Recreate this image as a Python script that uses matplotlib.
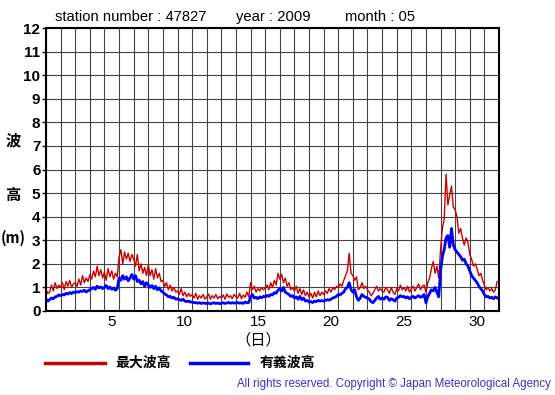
import numpy as np
import matplotlib.pyplot as plt

plt.rcParams["font.family"] = ["Liberation Sans", "DejaVu Sans"]
JP = ["Noto Sans CJK JP", "DejaVu Sans"]

station = "47827"
year = "2009"
month = "05"
per_day = 8  # 3-hourly readings

# significant wave height (m), 8 readings per day
sig_height = [
    0.50, 0.42, 0.48, 0.55, 0.52, 0.60, 0.62, 0.68,
    0.65, 0.70, 0.68, 0.75, 0.72, 0.78, 0.74, 0.80,
    0.78, 0.82, 0.80, 0.85, 0.83, 0.88, 0.80, 0.86,
    0.90, 0.95, 1.00, 0.92, 1.05, 0.98, 1.02, 0.95,
    1.00, 1.08, 0.95, 1.02, 0.92, 0.98, 0.88, 0.95,
    1.40, 1.30, 1.50, 1.35, 1.45, 1.28, 1.40, 1.55,
    1.35, 1.50, 1.25, 1.30, 1.15, 1.25, 1.05, 1.20,
    1.10, 1.00, 1.08, 0.95, 1.05, 0.90, 0.98, 0.85,
    0.80, 0.72, 0.68, 0.60, 0.62, 0.55, 0.58, 0.50,
    0.52, 0.48, 0.45, 0.50, 0.42, 0.40, 0.42, 0.38,
    0.38, 0.35, 0.36, 0.33, 0.35, 0.32, 0.34, 0.33,
    0.32, 0.34, 0.30, 0.33, 0.35, 0.32, 0.34, 0.31,
    0.33, 0.35, 0.32, 0.34, 0.36, 0.33, 0.35, 0.34,
    0.34, 0.36, 0.33, 0.35, 0.32, 0.38, 0.35, 0.36,
    0.60, 0.70, 0.55, 0.58, 0.52, 0.60, 0.56, 0.62,
    0.60, 0.66, 0.62, 0.70, 0.68, 0.78, 0.75, 0.88,
    0.95, 0.85, 1.00, 0.80, 0.75, 0.70, 0.62, 0.65,
    0.55, 0.60, 0.50, 0.62, 0.48, 0.55, 0.42, 0.45,
    0.38, 0.40, 0.36, 0.42, 0.40, 0.45, 0.42, 0.44,
    0.42, 0.45, 0.48, 0.46, 0.50, 0.55, 0.58, 0.62,
    0.70, 0.68, 0.75, 0.80, 0.95, 1.00, 1.20, 0.90,
    0.80, 0.90, 0.60, 0.45, 0.55, 0.70, 0.62, 0.58,
    0.55, 0.50, 0.40, 0.35, 0.45, 0.55, 0.62, 0.50,
    0.55, 0.50, 0.60, 0.58, 0.45, 0.52, 0.48, 0.42,
    0.55, 0.58, 0.65, 0.60, 0.62, 0.55, 0.60, 0.52,
    0.58, 0.62, 0.55, 0.60, 0.65, 0.58, 0.62, 0.70,
    0.35, 0.60, 0.75, 0.90, 0.85, 1.00, 0.80, 0.60,
    1.70, 2.30, 2.60, 3.10, 3.20, 2.70, 3.50, 2.80,
    2.60, 2.50, 2.40, 2.30, 2.15, 2.20, 2.00, 1.90,
    1.70, 1.50, 1.40, 1.30, 1.20, 1.05, 0.95, 0.85,
    0.70, 0.60, 0.62, 0.55, 0.58, 0.52, 0.60, 0.55,
]

# maximum wave height (m)
max_height = [
    0.90, 0.75, 0.80, 1.10, 0.85, 1.20, 0.95, 1.10,
    1.00, 1.20, 0.90, 1.25, 1.05, 1.30, 1.00, 1.15,
    1.20, 1.05, 1.35, 1.10, 1.50, 1.20, 1.40, 1.25,
    1.55, 1.35, 1.70, 1.45, 1.90, 1.50, 1.75, 1.40,
    1.65, 1.30, 1.80, 1.45, 1.70, 1.35, 1.60, 1.45,
    2.30, 2.60, 2.00, 2.50, 2.20, 2.45, 2.10, 2.40,
    2.20, 1.90, 2.40, 1.70, 2.00, 1.60, 1.85, 1.50,
    1.95, 1.50, 1.75, 1.35, 1.80, 1.40, 1.60, 1.25,
    1.30, 1.05, 1.20, 0.90, 1.10, 0.85, 1.00, 0.80,
    0.85, 0.70, 0.95, 0.65, 0.80, 0.60, 0.75, 0.62,
    0.70, 0.55, 0.75, 0.50, 0.65, 0.55, 0.70, 0.50,
    0.60, 0.72, 0.50, 0.65, 0.55, 0.70, 0.52, 0.62,
    0.55, 0.68, 0.50, 0.72, 0.58, 0.65, 0.52, 0.70,
    0.60, 0.55, 0.75, 0.52, 0.68, 0.58, 0.80, 0.60,
    1.20, 0.90, 1.05, 0.80, 0.95, 0.85, 1.00, 0.90,
    0.95, 1.10, 0.90, 1.20, 1.00, 1.30, 1.10, 1.60,
    1.35, 1.55, 1.20, 1.40, 1.05, 1.20, 0.90, 1.00,
    0.85, 1.05, 0.75, 0.95, 0.70, 0.90, 0.65, 0.80,
    0.60, 0.75, 0.55, 0.80, 0.60, 0.85, 0.65, 0.80,
    0.70, 0.85, 0.75, 0.95, 0.80, 1.00, 0.90, 1.05,
    1.00, 1.15, 1.05, 1.30, 1.50, 1.70, 2.45, 1.60,
    1.50, 1.30, 1.45, 0.90, 1.00, 1.20, 0.95, 1.05,
    0.90, 0.80, 0.65, 0.75, 0.90, 1.05, 0.85, 0.95,
    0.85, 0.80, 1.00, 0.90, 0.75, 1.00, 0.80, 0.70,
    0.95, 0.85, 1.10, 0.90, 1.00, 0.85, 1.05, 0.80,
    0.95, 1.05, 0.85, 1.00, 1.15, 0.90, 1.05, 1.10,
    0.80, 1.20, 1.40, 1.80, 2.10, 1.60, 1.90, 1.40,
    2.60, 3.50, 3.90, 5.80, 4.50, 4.90, 5.30, 4.40,
    4.30, 4.00, 3.30, 3.50, 3.10, 2.80, 3.10, 2.90,
    2.40, 2.20, 1.90, 2.00, 1.80, 1.50, 1.60, 1.30,
    1.10, 0.90, 1.00, 0.85, 0.95, 0.80, 0.90, 1.25,
]

day_labels = ["5", "10", "15", "20", "25", "30"]
day_label_pos = [4.5, 9.5, 14.5, 19.5, 24.5, 29.5]
n_days = 31

t = np.arange(len(sig_height)) / per_day

fig = plt.figure(figsize=(5.55, 3.95), dpi=100)
ax = fig.add_axes([46/555, 84/395, 453/555, 283/395])

ax.plot(t, max_height, color="#cc0000", lw=1.0)
ax.plot(t, sig_height, color="#0000ff", lw=2.0)

ax.set_xlim(0, n_days)
ax.set_ylim(0, 12)
ax.set_xticks(np.arange(0, n_days + 1))
ax.set_xticklabels([])
ax.set_xticks(day_label_pos, minor=True)
ax.set_xticklabels(day_labels, minor=True, fontsize=11)
ax.tick_params(axis="x", which="both", length=0, pad=3)
ax.set_yticks(range(0, 13))
ax.set_yticklabels([str(v) for v in range(13)], fontsize=11, fontweight="bold")
ax.tick_params(axis="y", length=3, width=1, pad=1)
ax.grid(True, which="major", color="#444444", lw=0.8)
ax.set_axisbelow(True)
for s in ax.spines.values():
    s.set_linewidth(1.5)

fig.text(55/555, 1 - 17/395, "station number : " + station, fontsize=10.6, va="center")
fig.text(236/555, 1 - 17/395, "year : " + year, fontsize=10.6, va="center")
fig.text(345/555, 1 - 17/395, "month : " + month, fontsize=10.6, va="center")

fig.text(13/555, 1 - 140/395, "波", family=JP, fontsize=11, fontweight="bold", ha="center", va="center")
fig.text(13/555, 1 - 195/395, "高", family=JP, fontsize=11, fontweight="bold", ha="center", va="center")
fig.text(13/555, 1 - 238/395, "(m)", family=JP, fontsize=10.5, fontweight="bold", ha="center", va="center")
fig.text(258/555, 1 - 340/395, "（日）", family=JP, fontsize=11, ha="center", va="center")

# legend drawn by hand like the original
fig.add_artist(plt.Line2D([45/555, 105/555], [1 - 363/395] * 2, color="#cc0000", lw=2.5))
fig.text(115/555, 1 - 363/395, "最大波高", family=JP, fontsize=10, fontweight="bold", va="center")
fig.add_artist(plt.Line2D([190/555, 248/555], [1 - 363/395] * 2, color="#0000ff", lw=2.5))
fig.text(260/555, 1 - 363/395, "有義波高", family=JP, fontsize=10, fontweight="bold", va="center")

fig.text(551/555, 1 - 384/395, "All rights reserved. Copyright \u00a9 Japan Meteorological Agency",
         fontsize=8.3, color="#3333cc", ha="right", va="center")

fig.savefig("out.png", dpi=100)
